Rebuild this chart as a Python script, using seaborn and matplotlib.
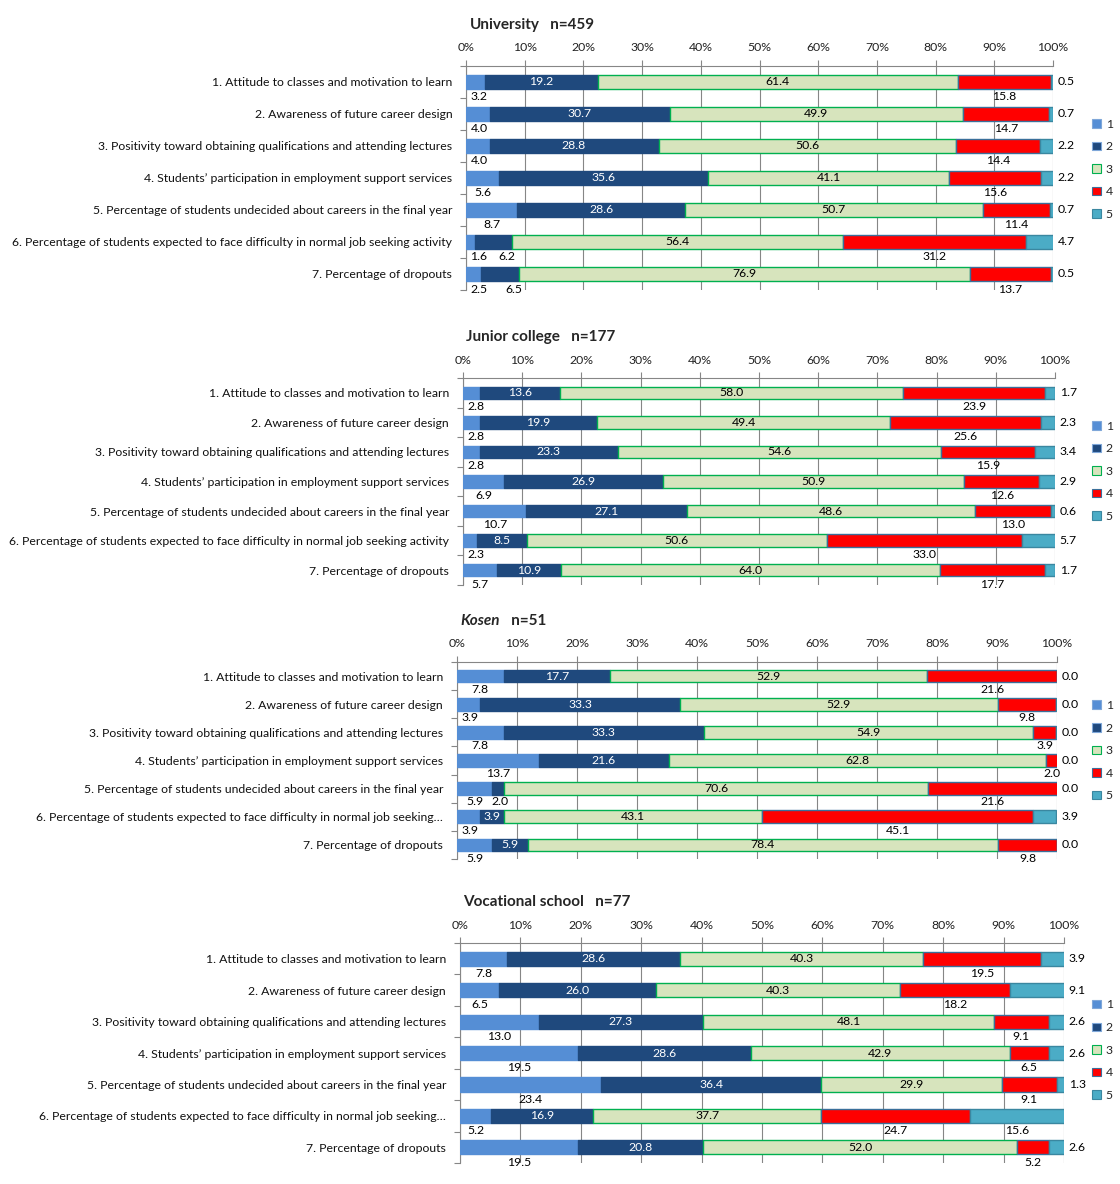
import numpy as np
import pandas as pd
import matplotlib
matplotlib.use("Agg")
import matplotlib.pyplot as plt
from matplotlib.patches import Patch
from matplotlib.ticker import FixedLocator
import seaborn as sns

sns.set_theme(style="white")
plt.rcParams['font.family'] = ['Lato', 'DejaVu Sans']

# --- data -----------------------------------------------------------------
items = [
    "1. Attitude to classes and motivation to learn",
    "2. Awareness of future career design",
    "3. Positivity toward obtaining qualifications and attending lectures",
    "4. Students\u2019 participation in employment support services",
    "5. Percentage of students undecided about careers in the final year",
    "6. Percentage of students expected to face difficulty in normal job seeking activity",
    "7. Percentage of dropouts",
]
items_short = items[:5] + [
    "6. Percentage of students expected to face difficulty in normal job seeking\u2026"
] + items[6:]

levels = ["1", "2", "3", "4", "5"]

university = [
    [3.2, 19.2, 61.4, 15.8, 0.5],
    [4.0, 30.7, 49.9, 14.7, 0.7],
    [4.0, 28.8, 50.6, 14.4, 2.2],
    [5.6, 35.6, 41.1, 15.6, 2.2],
    [8.7, 28.6, 50.7, 11.4, 0.7],
    [1.6, 6.2, 56.4, 31.2, 4.7],
    [2.5, 6.5, 76.9, 13.7, 0.5],
]
junior_college = [
    [2.8, 13.6, 58.0, 23.9, 1.7],
    [2.8, 19.9, 49.4, 25.6, 2.3],
    [2.8, 23.3, 54.6, 15.9, 3.4],
    [6.9, 26.9, 50.9, 12.6, 2.9],
    [10.7, 27.1, 48.6, 13.0, 0.6],
    [2.3, 8.5, 50.6, 33.0, 5.7],
    [5.7, 10.9, 64.0, 17.7, 1.7],
]
kosen = [
    [7.8, 17.7, 52.9, 21.6, 0.0],
    [3.9, 33.3, 52.9, 9.8, 0.0],
    [7.8, 33.3, 54.9, 3.9, 0.0],
    [13.7, 21.6, 62.8, 2.0, 0.0],
    [5.9, 2.0, 70.6, 21.6, 0.0],
    [3.9, 3.9, 43.1, 45.1, 3.9],
    [5.9, 5.9, 78.4, 9.8, 0.0],
]
vocational = [
    [7.8, 28.6, 40.3, 19.5, 3.9],
    [6.5, 26.0, 40.3, 18.2, 9.1],
    [13.0, 27.3, 48.1, 9.1, 2.6],
    [19.5, 28.6, 42.9, 6.5, 2.6],
    [23.4, 36.4, 29.9, 9.1, 1.3],
    [5.2, 16.9, 37.7, 24.7, 15.6],
    [19.5, 20.8, 52.0, 5.2, 2.6],
]

# --- style ----------------------------------------------------------------
fills = ["#558ED5", "#1F497D", "#D7E4BD", "#FF0000", "#4BACC6"]
edges = ["#558ED5", "#1F497D", "#00B050", "#3A6F9A", "#3A87A0"]
grid_c = "#868686"

# (title, n, data, labels, italic title, [left, bottom, width, height], legend y, bar width)
panels = [
    ("University", "n=459", university, items, False,
     [0.4161, 0.7551, 0.5241, 0.1892], 0.857, 0.42),
    ("Junior college", "n=177", junior_college, items, False,
     [0.4134, 0.5059, 0.5286, 0.1748], 0.602, 0.42),
    ("Kosen", "n=51", kosen, items_short, True,
     [0.4080, 0.2745, 0.5357, 0.1664], 0.366, 0.45),
    ("Vocational school", "n=77", vocational, items_short, False,
     [0.4107, 0.0177, 0.5393, 0.1858], 0.113, 0.45),
]
# label placement exceptions: (panel, row) where seg 2 / seg 5 label sits below
seg2_below = {(0, 5), (0, 6), (2, 4)}
seg5_below = {(3, 5)}

fig = plt.figure(figsize=(11.2, 11.84), dpi=100)
fs = 8.8

for p, (name, n, data, labels, italic, rect, leg_y, bw) in enumerate(panels):
    ax = fig.add_axes(rect)
    vals = np.array(data)
    df = pd.DataFrame(vals, columns=levels)
    df["item"] = labels
    lefts = np.hstack([np.zeros((len(vals), 1)), np.cumsum(vals, axis=1)[:, :-1]])

    for k, lev in enumerate(levels):
        sns.barplot(data=df, x=lev, y="item", order=labels, ax=ax,
                    color=fills[k], saturation=1, errorbar=None, width=bw,
                    left=lefts[:, k], edgecolor=edges[k], linewidth=1.0,
                    zorder=3)

    ax.set_xlim(0, 100)
    ax.set_ylim(6.5, -0.5)
    ax.set_xlabel("")
    ax.set_ylabel("")

    # x axis on top
    ax.xaxis.tick_top()
    ax.set_xticks(np.arange(0, 101, 10))
    ax.set_xticklabels([f"{t}%" for t in range(0, 101, 10)], fontsize=fs)
    ax.tick_params(axis="x", top=True, length=4, width=0.8, color=grid_c,
                   pad=5, labelcolor="#222222")
    ax.grid(axis="x", color=grid_c, linewidth=0.8, zorder=0)
    ax.set_axisbelow(True)

    # y axis
    ax.tick_params(axis="y", which="major", length=0, pad=10, labelsize=fs,
                   labelcolor="#111111")
    ax.yaxis.set_minor_locator(FixedLocator(np.arange(-0.5, 7, 1)))
    ax.tick_params(axis="y", which="minor", left=True, length=4, width=0.8,
                   color=grid_c, direction="out")

    for side in ["right", "bottom"]:
        ax.spines[side].set_visible(False)
    for side in ["top", "left"]:
        ax.spines[side].set_color(grid_c)
        ax.spines[side].set_linewidth(0.8)

    # value labels
    for r in range(len(vals)):
        v = vals[r]
        cen = lefts[r] + v / 2
        yb = r + 0.47
        # segment 1: below
        ax.text(max(cen[0], 2.2), yb, f"{v[0]:.1f}", ha="center", va="center",
                fontsize=fs, color="black", zorder=5)
        # segment 2: inside (white) or below
        if (p, r) in seg2_below:
            ax.text(lefts[r][2] - 0.8, yb, f"{v[1]:.1f}", ha="center", va="center",
                    fontsize=fs, color="black", zorder=5)
        else:
            ax.text(cen[1], r, f"{v[1]:.1f}", ha="center", va="center",
                    fontsize=fs, color="white", zorder=5)
        # segment 3: inside
        ax.text(cen[2], r, f"{v[2]:.1f}", ha="center", va="center",
                fontsize=fs, color="black", zorder=5)
        # segment 4: below
        ax.text(cen[3], yb, f"{v[3]:.1f}", ha="center", va="center",
                fontsize=fs, color="black", zorder=5)
        # segment 5: right of the bar or below
        if (p, r) in seg5_below:
            ax.text(cen[4], yb, f"{v[4]:.1f}", ha="center", va="center",
                    fontsize=fs, color="black", zorder=5)
        else:
            ax.text(100.8, r, f"{v[4]:.1f}", ha="left", va="center",
                    fontsize=fs, color="black", zorder=5, clip_on=False)

    # title
    title_y = rect[1] + rect[3] + 0.029
    t = fig.text(rect[0] + 0.003, title_y, name, fontsize=11, fontweight="bold",
                 style="italic" if italic else "normal", va="bottom", ha="left")
    ax.annotate("   " + n, xy=(1, 0), xycoords=t, va="bottom", ha="left",
                fontsize=11, fontweight="bold", annotation_clip=False)

    # legend
    handles = [Patch(facecolor=fills[k], edgecolor=edges[k] if k >= 2 else "#7FA7D9",
                     linewidth=0.8, label=levels[k]) for k in range(5)]
    fig.legend(handles=handles, loc="center left", bbox_to_anchor=(0.971, leg_y),
               frameon=False, fontsize=fs, handlelength=0.7, handleheight=0.7,
               handletextpad=0.4, labelspacing=0.95, borderaxespad=0)

fig.savefig("out.png", dpi=100)
